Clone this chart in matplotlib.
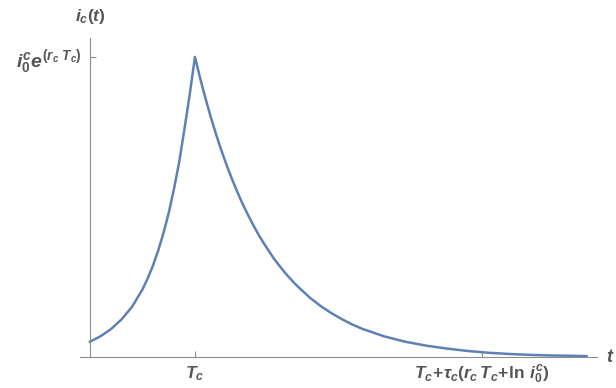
import matplotlib

matplotlib.use("Agg")

import matplotlib.pyplot as plt

# curve (time in units of T_c, current relative to the peak)
t_vals = [0.0, 0.1, 0.2, 0.3, 0.4, 0.5, 0.55, 0.6, 0.65, 0.7, 0.75, 0.8,
          0.85, 0.9, 0.95, 1.0,
          1.05, 1.1, 1.15, 1.2, 1.25, 1.3, 1.35, 1.4, 1.45, 1.5, 1.55, 1.6,
          1.65, 1.7, 1.75, 1.8, 1.85, 1.9, 1.95, 2.0, 2.1, 2.2, 2.3, 2.4,
          2.5, 2.6, 2.7, 2.8, 2.9, 3.0, 3.2, 3.4, 3.6, 3.8, 4.0, 4.2, 4.4,
          4.6, 4.73]
i_vals = [0.051, 0.069, 0.093, 0.125, 0.167, 0.225, 0.262, 0.305, 0.355,
          0.413, 0.480, 0.560, 0.650, 0.760, 0.875, 1.0,
          0.928, 0.862, 0.800, 0.743, 0.690, 0.641, 0.595, 0.553, 0.513,
          0.477, 0.443, 0.411, 0.382, 0.355, 0.329, 0.306, 0.284, 0.264,
          0.245, 0.228, 0.196, 0.169, 0.146, 0.126, 0.108, 0.093, 0.081,
          0.069, 0.060, 0.051, 0.038, 0.028, 0.020, 0.014, 0.010, 0.007,
          0.005, 0.004, 0.003]

x_ticks = [1.0, 3.73]
x_tick_labels = [r"$T_c$", r"$T_c\!+\!\tau_c(r_c\,T_c\!+\!\mathbf{ln}\ i_0^c)$"]
y_ticks = [1.0]
y_tick_labels = [r"$i_0^c e^{(r_c\ T_c)}$"]

plt.rcParams["mathtext.fontset"] = "custom"
plt.rcParams["mathtext.it"] = "Liberation Sans:italic:bold"
plt.rcParams["mathtext.rm"] = "Liberation Sans:bold"
plt.rcParams["mathtext.bf"] = "Liberation Sans:bold"

text_color = "#555555"
axis_color = "#8c8c8c"

fig = plt.figure(figsize=(6.16, 3.88), dpi=100)
ax = fig.add_axes([80 / 616, 31 / 388, 517 / 616, 319 / 388])

ax.plot(t_vals, i_vals, color="#5e81b5", linewidth=1.8)

ax.set_xlim(-0.095, 4.829)
ax.set_ylim(0, 1.063)

for side in ("top", "right"):
    ax.spines[side].set_visible(False)
ax.spines["left"].set_position(("data", 0))
ax.spines["left"].set_color(axis_color)
ax.spines["bottom"].set_color(axis_color)

ax.set_xticks(x_ticks, x_tick_labels)
ax.set_yticks(y_ticks, y_tick_labels)
ax.tick_params(direction="in", length=4, width=0.8, color=axis_color,
               labelcolor=text_color)
ax.tick_params(axis="x", pad=5, labelsize=12.5)
ax.tick_params(axis="y", pad=6, labelsize=14)

ax.set_xlabel(r"$t$", color=text_color, fontsize=13)
ax.xaxis.set_label_coords(1.026, 0.0)
ax.xaxis.label.set_va("center")
ax.set_ylabel(r"$i_c(t)$", color=text_color, fontsize=12.5, rotation=0)
ax.yaxis.set_label_coords(0.0193, 1.066)
ax.yaxis.label.set_ha("center")
ax.yaxis.label.set_va("center")

fig.savefig("out.png", dpi=100)
plt.close(fig)
